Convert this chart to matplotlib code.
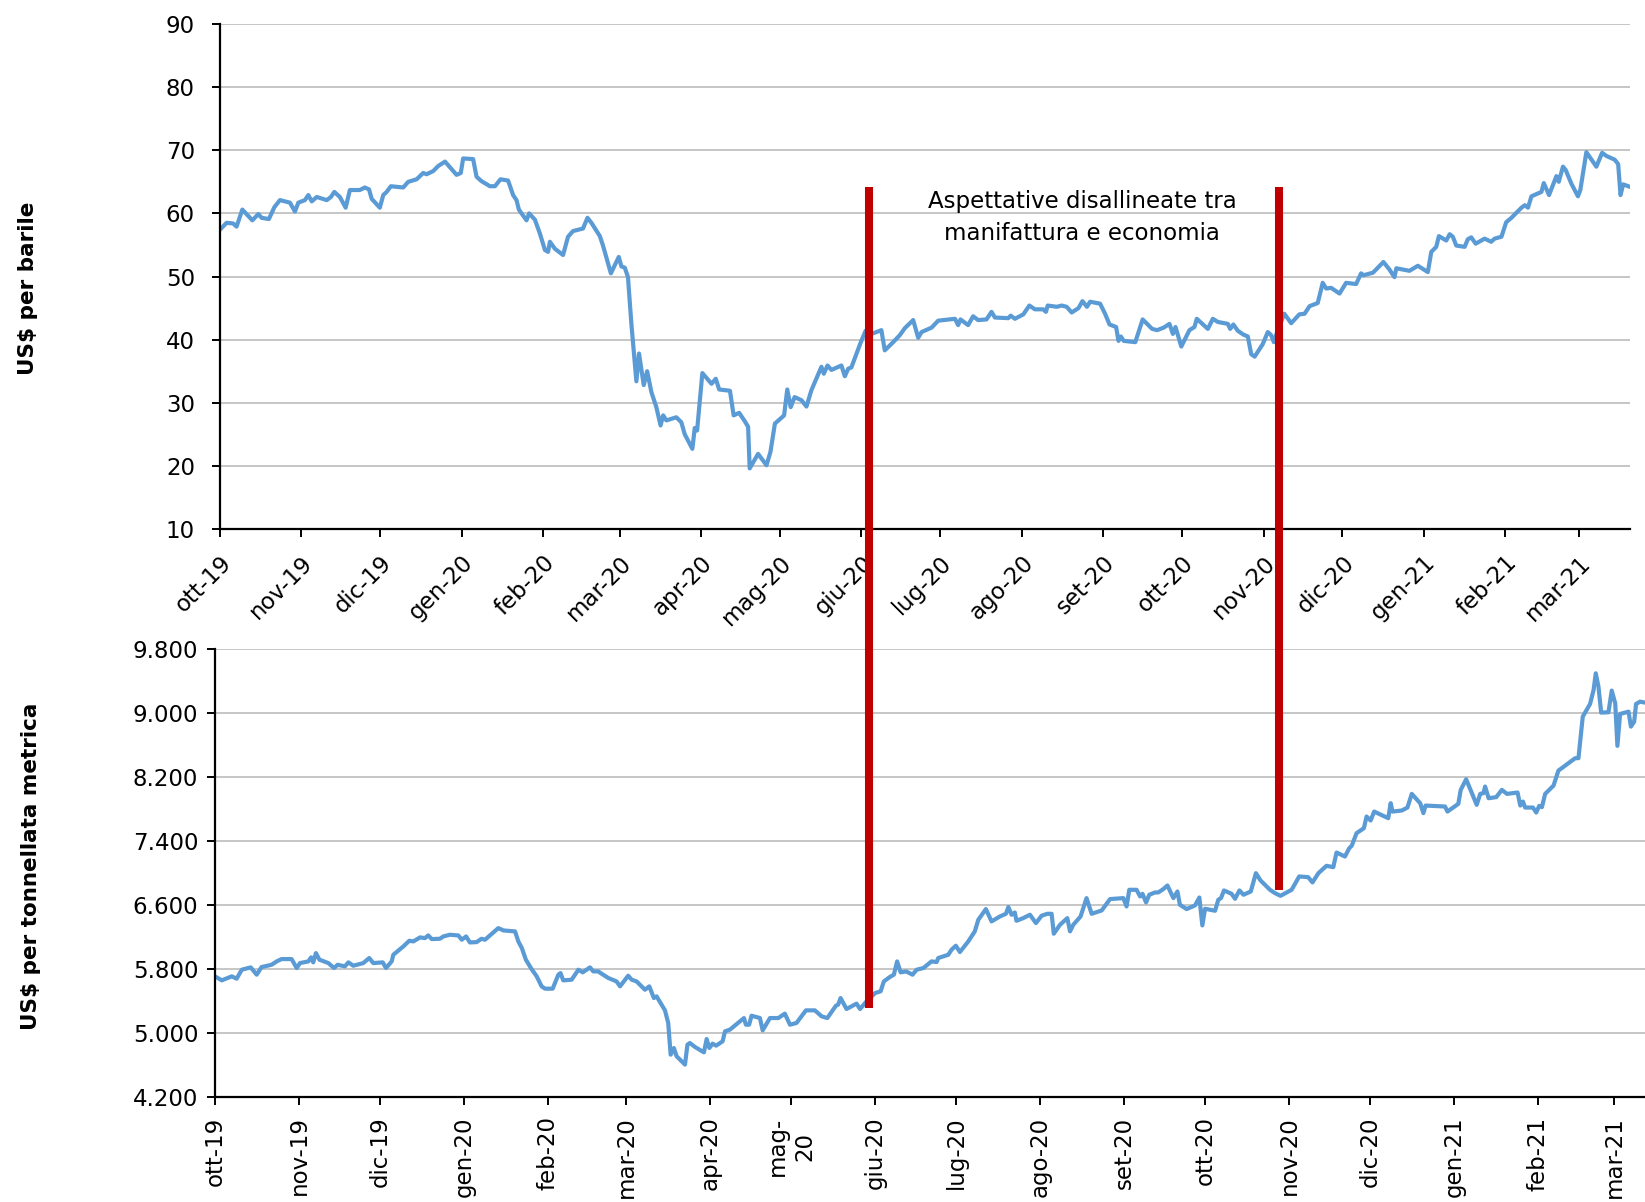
import numpy as np
import pandas as pd
import matplotlib
matplotlib.use("Agg")
import matplotlib.pyplot as plt
import matplotlib.dates as mdates
from matplotlib.lines import Line2D

# ---------------- data ----------------
START = "2019-10-01"

# Brent crude, US$ per barrel (x = days since 1 Oct 2019)
oil_day = [0.4, 2.5, 5.0, 6.3, 8.5, 12.3, 14.6, 15.8, 18.6, 20.7, 22.8, 26.6, 28.5, 29.8,
           32.3, 33.6, 34.9, 36.8, 40.6, 42.2, 43.5, 45.6, 47.8, 49.4, 53.2, 55.1, 56.7,
           57.7, 60.8, 62.1, 63.4, 65.0, 69.7, 71.6, 74.8, 77.3, 78.6, 81.1, 83.0, 85.6,
           90.0, 91.6, 92.5, 96.3, 97.6, 99.5, 102.7, 104.6, 106.7, 109.6, 111.5, 112.8,
           113.7, 116.6, 117.6, 119.8, 121.7, 123.6, 124.8, 125.5, 127.4, 130.5, 132.4,
           134.3, 138.1, 139.8, 141.3, 144.5, 145.7, 148.7, 151.7, 152.7, 154.0, 155.2,
           156.5, 158.4, 159.4, 161.2, 162.5, 164.1, 166.0, 167.6, 168.6, 169.8, 173.6,
           175.5, 176.8, 179.7, 180.6, 181.5, 183.5, 187.0, 188.6, 189.9, 194.0, 195.4,
           197.5, 199.6, 200.9, 201.5, 204.7, 207.9, 209.4, 211.1, 214.6, 215.8, 217.1,
           218.6, 221.2, 223.1, 225.0, 228.8, 229.7, 231.1, 232.6, 236.4, 237.7, 239.0,
           240.2, 243.6, 245.6, 248.5, 251.6, 252.9, 256.1, 258.6, 260.5, 263.7, 265.6,
           266.9, 270.7, 273.2, 279.6, 280.8, 281.7, 284.6, 286.5, 288.4, 291.6, 293.5,
           294.8, 299.9, 300.8, 302.4, 305.6, 307.9, 310.0, 313.2, 314.2, 314.9, 318.3,
           320.2, 322.1, 324.0, 326.6, 328.1, 329.8, 331.0, 334.8, 336.7, 338.4, 340.9,
           341.8, 342.7, 343.8, 348.2, 351.0, 354.6, 356.5, 359.0, 361.2, 362.5, 363.5,
           365.7, 368.8, 370.7, 371.6, 375.8, 377.7, 379.6, 383.4, 384.3, 385.5, 387.2,
           389.3, 391.0, 392.3, 393.6, 396.7, 398.6, 399.9, 400.9, 402.8, 404.9, 407.5,
           410.6, 412.6, 414.5, 417.6, 419.5, 420.8, 422.7, 425.9, 428.4, 432.2, 434.1,
           435.0, 438.6, 442.6, 444.9, 446.8, 447.5, 452.5, 455.7, 459.5, 460.8, 462.7,
           463.7, 466.5, 467.8, 469.0, 470.3, 473.5, 474.7, 476.0, 477.7, 481.1, 483.6,
           484.9, 487.5, 489.3, 491.3, 495.1, 496.4, 497.6, 498.9, 502.7, 503.6, 505.6,
           508.4, 509.3, 510.9, 511.9, 514.1, 516.6, 517.5, 519.8, 523.6, 525.8, 527.4,
           530.6, 531.9, 532.8, 533.8, 536.4]
oil_price = [57.6, 58.5, 58.4, 57.9, 60.6, 58.9, 59.9, 59.3, 59.1, 61.0, 62.1, 61.7, 60.3, 61.7,
             62.1, 62.9, 61.9, 62.6, 62.1, 62.6, 63.4, 62.6, 60.9, 63.7, 63.7, 64.1, 63.8,
             62.3, 60.9, 62.9, 63.4, 64.3, 64.1, 65.0, 65.4, 66.4, 66.2, 66.7, 67.5, 68.2,
             66.1, 66.4, 68.7, 68.6, 65.8, 65.1, 64.3, 64.3, 65.4, 65.2, 62.9, 62.1,
             60.6, 58.9, 60.0, 59.0, 56.8, 54.2, 53.9, 55.5, 54.4, 53.4, 56.3,
             57.2, 57.6, 59.3, 58.5, 56.4, 54.9, 50.5, 53.1, 51.6, 51.4, 49.9,
             42.5, 33.4, 37.8, 32.8, 35.0, 31.7, 29.3, 26.4, 28.0, 27.2, 27.7,
             26.9, 25.0, 22.7, 26.0, 25.6, 34.7, 33.0, 33.8, 32.1, 31.9, 28.0,
             28.4, 27.1, 26.2, 19.6, 21.9, 20.1, 22.2, 26.7, 28.0, 32.1, 29.3,
             30.9, 30.4, 29.4, 32.0, 35.7, 34.6, 35.9, 35.2, 35.9, 34.2, 35.4,
             35.6, 39.4, 41.4, 41.0, 41.5, 38.3, 39.6, 40.7, 41.8, 43.1, 40.3,
             41.2, 41.9, 43.0, 43.3, 42.3, 43.2, 42.3, 43.7, 43.1, 43.2, 44.4,
             43.5, 43.4, 43.8, 43.3, 44.0, 45.4, 44.8, 44.8, 44.4, 45.4, 45.2,
             45.4, 45.2, 44.3, 45.0, 46.1, 45.2, 46.0, 45.7, 44.1, 42.4, 42.0,
             39.8, 40.5, 39.8, 39.6, 43.2, 41.7, 41.5, 41.9, 42.5, 40.9, 42.0,
             38.9, 41.5, 42.0, 43.3, 41.7, 43.3, 42.8, 42.5, 41.7, 42.4, 41.4,
             40.8, 40.5, 37.7, 37.3, 39.3, 41.2, 40.7, 39.6, 42.0, 44.1, 42.6,
             44.0, 44.1, 45.3, 45.8, 49.0, 48.1, 48.2, 47.3, 49.0, 48.8, 50.5,
             50.2, 50.6, 52.3, 51.1, 49.9, 51.3, 50.9, 51.7, 50.7, 53.9, 54.7,
             56.4, 55.7, 56.7, 56.3, 54.9, 54.7, 55.9, 56.2, 55.2, 56.0, 55.5,
             56.0, 56.3, 58.6, 59.3, 60.9, 61.3, 60.9, 62.7, 63.4, 64.8, 62.9,
             65.9, 65.0, 67.4, 66.9, 64.7, 62.7, 63.7, 69.7, 67.4, 69.6, 69.1,
             68.5, 67.8, 62.9, 64.6, 64.2]

# LME copper, US$ per metric tonne (x = days since 1 Oct 2019)
cu_day = [0.0, 2.5, 6.2, 8.0, 9.9, 13.2, 15.4, 17.2, 20.9, 22.8, 24.6, 28.3, 30.2, 31.4,
          34.5, 35.5, 36.3, 37.3, 38.6, 41.9, 44.0, 45.3, 48.0, 49.3, 51.1, 54.8, 57.0,
          58.5, 62.0, 63.2, 65.3, 65.9, 69.6, 71.8, 73.3, 75.8, 77.6, 78.8, 80.1, 83.1,
          84.4, 86.8, 89.9, 91.2, 92.8, 94.2, 96.7, 98.5, 99.8, 102.9, 104.7, 106.6,
          110.9, 112.1, 113.4, 114.9, 117.0, 118.9, 120.7, 122.0, 124.8, 126.9, 127.7,
          128.7, 131.8, 134.3, 135.9, 138.6, 139.8, 141.7, 142.5, 145.4, 148.4, 149.7,
          152.7, 154.0, 155.8, 158.9, 160.5, 162.2, 163.2, 166.3, 167.5, 168.4, 169.6,
          170.6, 173.7, 174.6, 175.5, 177.4, 180.7, 181.7, 182.7, 183.9, 185.2, 187.6,
          188.5, 190.3, 195.5, 196.2, 197.4, 198.3, 201.4, 202.4, 205.1, 208.2, 210.6,
          212.5, 214.9, 218.4, 221.7, 224.2, 226.3, 229.5, 230.3, 231.2, 233.4, 237.1,
          238.4, 240.8, 244.0, 246.0, 247.2, 249.4, 250.9, 252.1, 253.4, 255.4, 257.8,
          259.3, 261.8, 264.8, 266.7, 267.3, 271.0, 272.2, 273.8, 275.3, 278.4, 280.8,
          282.1, 284.9, 287.0, 290.1, 292.3, 293.2, 294.4, 295.6, 296.2, 298.7, 301.2,
          303.4, 305.5, 307.6, 309.2, 310.0, 312.3, 315.0, 316.0, 317.2, 319.9, 322.1,
          324.0, 327.7, 330.8, 335.7, 336.9, 337.9, 340.6, 341.9, 342.8, 344.1, 345.3,
          347.4, 348.6, 350.5, 352.0, 354.2, 355.7, 356.6, 359.1, 362.2, 363.8, 364.9,
          365.9, 369.6, 370.8, 371.8, 372.9, 375.7, 377.0, 378.6, 380.1, 382.8, 384.7,
          386.4, 389.9, 391.7, 393.8, 397.9, 400.7, 404.0, 405.6, 407.8, 410.8, 413.3,
          414.5, 417.6, 419.2, 420.1, 421.9, 424.6, 425.6, 427.1, 428.4, 433.6, 434.5,
          435.2, 438.6, 440.7, 442.3, 445.4, 446.6, 447.4, 454.6, 455.5, 459.5, 460.4,
          462.4, 466.3, 467.6, 468.8, 469.4, 470.7, 473.5, 475.6, 477.5, 481.4, 482.4,
          483.4, 484.2, 487.1, 488.3, 489.4, 490.4, 491.6, 494.7, 496.5, 502.7, 503.9,
          505.5, 508.2, 509.5, 510.3, 511.3, 512.3, 515.0, 516.2, 517.5, 518.3, 519.3,
          522.4, 523.3, 524.5, 525.2, 526.7, 528.5]
cu_price = [5708, 5658, 5708, 5679, 5791, 5820, 5729, 5824, 5853, 5895, 5924, 5924, 5812, 5874,
            5895, 5945, 5883, 5999, 5916, 5874, 5812, 5853, 5833, 5883, 5841, 5874, 5937,
            5874, 5883, 5812, 5895, 5978, 6082, 6153, 6145, 6195, 6186, 6220, 6174, 6178,
            6207, 6228, 6220, 6166, 6207, 6132, 6136, 6178, 6166, 6257, 6311, 6282,
            6270, 6145, 6062, 5916, 5799, 5708, 5583, 5554, 5554, 5729, 5749,
            5658, 5666, 5791, 5758, 5820, 5770, 5770, 5749, 5687, 5645, 5583,
            5716, 5666, 5645, 5541, 5583, 5437, 5458, 5283, 5125, 4729, 4812,
            4709, 4605, 4854, 4875, 4825, 4758, 4925, 4813, 4867, 4842, 4896,
            5021, 5042, 5187, 5104, 5104, 5216, 5187, 5033, 5187, 5187, 5242,
            5104, 5125, 5283, 5283, 5208, 5187, 5342, 5354, 5437, 5300, 5367,
            5300, 5396, 5500, 5521, 5645, 5700, 5729, 5895, 5758, 5770, 5729,
            5791, 5812, 5895, 5887, 5937, 5978, 6041, 6091, 6012, 6145, 6270,
            6415, 6549, 6395, 6457, 6490, 6574, 6478, 6507, 6403, 6436, 6478,
            6374, 6466, 6490, 6490, 6241, 6353, 6436, 6270, 6353, 6457, 6686,
            6490, 6532, 6674, 6686, 6582, 6790, 6790, 6707, 6740, 6632, 6728,
            6757, 6757, 6799, 6844, 6686, 6769, 6603, 6549, 6595, 6694, 6345,
            6553, 6528, 6665, 6686, 6782, 6740, 6678, 6782, 6728, 6769, 6998,
            6907, 6790, 6749, 6715, 6790, 6957, 6948, 6882, 6998, 7090, 7073,
            7256, 7206, 7310, 7340, 7498, 7560, 7706, 7656, 7768, 7685, 7873,
            7768, 7781, 7818, 7989, 7873, 7748, 7843, 7831, 7768, 7864, 8039,
            8172, 7852, 7989, 7998, 8081, 7935, 7948, 8039, 7989, 8006, 7843,
            7893, 7818, 7818, 7756, 7839, 7823, 7989, 8093, 8280, 8435, 8435,
            8955, 9113, 9288, 9496, 9330, 9005, 9009, 9280, 9121, 8589, 8988,
            9017, 8830, 8892, 9113, 9142, 9130]

# Month ticks and Italian labels
month_starts = pd.date_range("2019-10-01", "2021-03-01", freq="MS")
month_labels = ["ott-19", "nov-19", "dic-19", "gen-20", "feb-20", "mar-20", "apr-20",
                "mag-20", "giu-20", "lug-20", "ago-20", "set-20", "ott-20", "nov-20",
                "dic-20", "gen-21", "feb-21", "mar-21"]
month_labels_bottom = [lab if lab != "mag-20" else "mag-\n20" for lab in month_labels]

oil_ticks = [10, 20, 30, 40, 50, 60, 70, 80, 90]
cu_ticks = [4200, 5000, 5800, 6600, 7400, 8200, 9000, 9800]
cu_tick_labels = ["4.200", "5.000", "5.800", "6.600", "7.400", "8.200", "9.000", "9.800"]

# Period of misaligned expectations (dates marked on the oil chart)
split_dates = ["2020-06-04", "2020-11-07"]
split_top_oil = 64.1
split_bottom_cu = [5310, 6790]
annotation = "Aspettative disallineate tra\nmanifattura e economia"
annotation_date = "2020-08-24"
annotation_value = 59.4

# ---------------- style ----------------
LINE_BLUE = "#5B9BD5"
RED = "#C00000"
GRID = "#BCBCBC"
FS = 16.5
plt.rcParams["font.family"] = ["DejaVu Sans"]

t0 = mdates.date2num(pd.Timestamp(START))
oil_x = t0 + np.asarray(oil_day)
cu_x = t0 + np.asarray(cu_day)
tick_x = mdates.date2num(month_starts)

fig = plt.figure(figsize=(16.45, 12.02), dpi=100)
ax1 = fig.add_axes([220 / 1645, 1 - 529 / 1202, 1410 / 1645, 505 / 1202])
ax2 = fig.add_axes([215 / 1645, 1 - 1097 / 1202, 1430 / 1645, 448 / 1202])


def style_axis(ax):
    for side in ("top", "right"):
        ax.spines[side].set_visible(False)
    for side in ("left", "bottom"):
        ax.spines[side].set_linewidth(1.6)
        ax.spines[side].set_color("black")
    ax.grid(axis="y", color=GRID, linewidth=1.2)
    ax.set_axisbelow(True)
    ax.tick_params(axis="both", direction="out", length=6, width=1.4,
                   color="black", labelsize=FS)


# Top: oil
ax1.plot(oil_x, oil_price, color=LINE_BLUE, linewidth=3.0, solid_joinstyle="round")
style_axis(ax1)
ax1.set_ylim(10, 90)
ax1.set_yticks(oil_ticks)
ax1.set_xlim(t0, oil_x[-1])
ax1.set_xticks(tick_x)
ax1.set_xticklabels(month_labels, rotation=45, ha="right", va="top",
                    rotation_mode="anchor")
ax1.tick_params(axis="y", pad=12)
ax1.tick_params(axis="x", pad=10)

# Bottom: copper
ax2.plot(cu_x, cu_price, color=LINE_BLUE, linewidth=3.0, solid_joinstyle="round")
style_axis(ax2)
ax2.set_ylim(4200, 9800)
ax2.set_yticks(cu_ticks)
ax2.set_yticklabels(cu_tick_labels)
ax2.set_xlim(t0, cu_x[-1])
ax2.set_xticks(tick_x)
ax2.set_xticklabels(month_labels_bottom, rotation=90, ha="center", va="top",
                    linespacing=1.25)
ax2.tick_params(axis="y", pad=6)
ax2.tick_params(axis="x", pad=8)

# Axis titles
fig.text(28 / 1645, 1 - 288 / 1202, "US$ per barile", rotation=90, ha="center",
         va="center", fontsize=15.5, fontweight="bold")
fig.text(31 / 1645, 1 - 866 / 1202, "US$ per tonnellata metrica", rotation=90,
         ha="center", va="center", fontsize=15.5, fontweight="bold")

# Annotation
ax1.text(mdates.date2num(pd.Timestamp(annotation_date)), annotation_value, annotation,
         ha="center", va="center", fontsize=FS, linespacing=1.5, multialignment="center")

# Vertical markers spanning both panels
fig.canvas.draw()
to_fig = fig.transFigure.inverted()
for d, y_low in zip(split_dates, split_bottom_cu):
    xd = mdates.date2num(pd.Timestamp(d))
    px_top = ax1.transData.transform((xd, split_top_oil))
    px_bot_y = ax2.transData.transform((t0, y_low))[1]
    (fx, fy_top) = to_fig.transform(px_top)
    fy_bot = to_fig.transform((px_top[0], px_bot_y))[1]
    fig.add_artist(Line2D([fx, fx], [fy_bot, fy_top], color=RED, linewidth=5.8,
                          solid_capstyle="butt", transform=fig.transFigure, zorder=5))

fig.savefig("out.png", dpi=100, facecolor="white")
